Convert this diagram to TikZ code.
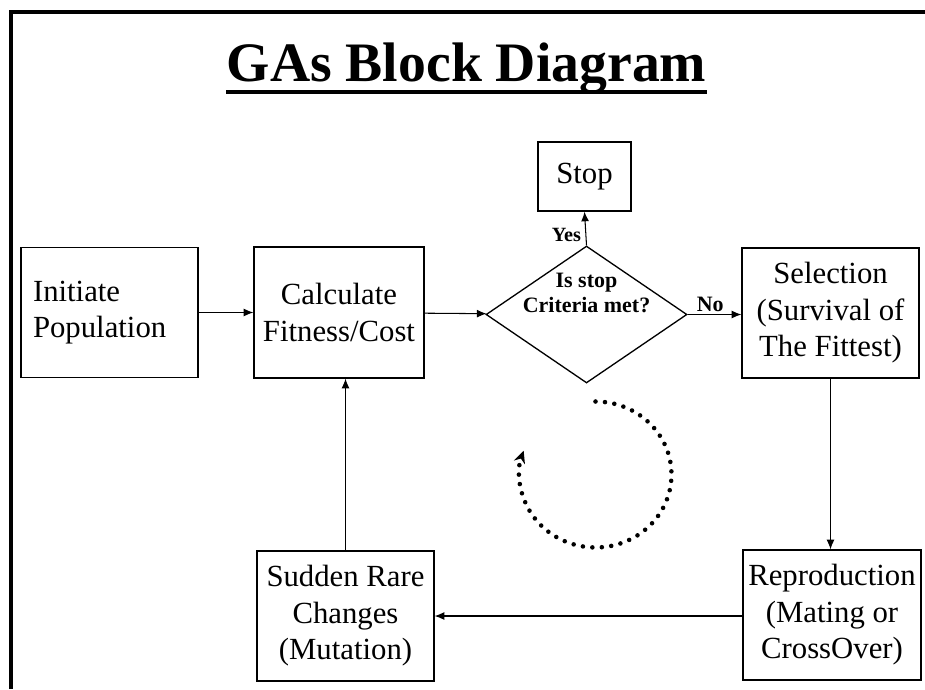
\documentclass[tikz,border=0pt]{standalone}
\usepackage{fontspec}
\setmainfont{Liberation Serif}
\usetikzlibrary{shapes.geometric,arrows.meta}

\tikzstyle{block} = [draw, line width=0.75pt, inner sep=2pt, align=center, font=\fontsize{17.5}{20.8}\selectfont]
\tikzstyle{decision} = [diamond, draw, line width=0.75pt, inner sep=0pt]
\tikzstyle{small} = [font=\fontsize{12.5}{14.2}\selectfont\bfseries, align=center]
\tikzstyle{flow} = [line width=0.6pt, -{Latex[length=5.5pt,width=4.5pt]}]
\tikzstyle{dotline} = [line width=2.6pt, line cap=round, dash pattern=on 0pt off 5.4pt, -{Stealth[length=7pt,width=6.5pt]}]

\begin{document}
\begin{tikzpicture}[x=0.02cm, y=-0.02cm]
       \useasboundingbox (0,0) rectangle (925,689);
       \draw[line width=1.8pt] (11,689) -- (11,12) -- (925,12);

       % title
       \node[inner sep=0pt, anchor=base, font=\fontsize{31.7}{36}\selectfont\bfseries] (title) at (466.5,82) {GAs Block Diagram};
       \draw[line width=2.6pt] ([yshift=-5.7pt]title.base west) -- ([yshift=-5.7pt]title.base east);

       % blocks
       \node[block, align=left, text width=3.06cm, inner xsep=0.24cm, minimum height=2.6cm] (init) at (109.5,312.5) {Initiate\\Population};
       \node[block, minimum width=3.4cm, minimum height=2.62cm] (calc) at (339,312.5) {Calculate\\Fitness/Cost};
       \node[decision, minimum width=4.02cm, minimum height=2.74cm] (crit) at (586.5,314.5) {};
       \node[small] (critlabel) at ([yshift=12pt]crit.center) {Is stop\\Criteria met?};
       \node[block, minimum width=1.86cm, minimum height=1.38cm] (stop) at (584.5,176.5) {Stop};
       \node[block, minimum width=3.54cm, minimum height=2.6cm] (sel) at (830.5,313) {Selection\\(Survival of\\The Fittest)};
       \node[block, minimum width=3.56cm, minimum height=2.6cm] (repro) at (832,615) {Reproduction\\(Mating or\\CrossOver)};
       \node[block, minimum width=3.54cm, minimum height=2.6cm] (mut) at (345.5,616) {Sudden Rare\\Changes\\(Mutation)};

       % connectors
       \draw[flow] (init) -- (calc);
       \draw[flow] (calc) -- (crit);
       \draw[flow] (crit.north) -- node[small, pos=0.31, left, inner sep=2.5pt, font=\fontsize{11.5}{13}\selectfont\bfseries] {Yes} (stop.south);
       \draw[flow] (crit.east) -- node[small, pos=0.42, above, inner sep=1.5pt] {No} (sel.west |- crit.east);
       \draw[flow] (sel) -- (sel |- repro.north);
       \draw[flow] (repro.west |- mut.east) -- (mut.east);
       \draw[flow] (mut) -- (mut |- calc.south);

       % loop sign
       \coordinate (loop) at (595.5,474.5);
       \draw[dotline] ([yshift=1.46cm]loop) arc[start angle=90, end angle=-199, x radius=1.52cm, y radius=1.46cm];
     \end{tikzpicture}
\end{document}
